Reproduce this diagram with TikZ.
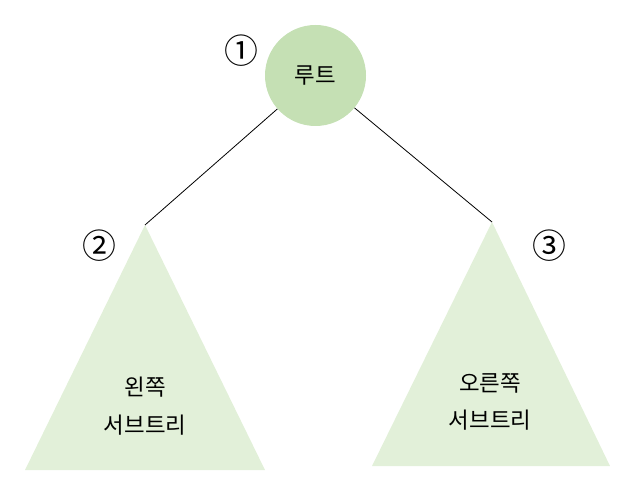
\documentclass[tikz,border=0pt]{standalone}
\usepackage{fontspec}
\setmainfont{Noto Sans CJK KR}
\usepackage{xcolor}
\usepackage{tikz}
\definecolor{rootgreen}{HTML}{C5E0B4}
\definecolor{treegreen}{HTML}{E2F0D9}

\begin{document}
\begin{tikzpicture}[
  x=1bp, y=-1bp,
  font=\fontsize{22.5}{38}\selectfont,
  rootnode/.style={circle, fill=rootgreen, minimum size=101bp, inner sep=0pt},
  subtree/.style={fill=treegreen},
  label/.style={align=center},
  numlabel/.style={font=\fontsize{34}{34}\selectfont, inner sep=0pt},
  edge/.style={draw=black, line width=0.8bp}
]
\useasboundingbox (0,0) rectangle (642,486);

\node[rootnode] (root) at (315.5,75.5) {루트};

\coordinate (lapex) at (145,225);
\coordinate (rapex) at (492,222);

\fill[subtree] (lapex) -- (25,470) -- (265,470) -- cycle;
\fill[subtree] (rapex) -- (372,466) -- (610,466) -- cycle;

\node[label] (lefttxt) at (145,406) {왼쪽\\서브트리};
\node[label] (righttxt) at (490,402) {오른쪽\\서브트리};

\draw[edge] (root) -- (lapex);
\draw[edge] (root) -- (rapex);

\node[numlabel] (num1) at (241,51) {①};
\node[numlabel] (num2) at (99,246) {②};
\node[numlabel] (num3) at (549,246) {③};

\end{tikzpicture}
\end{document}
